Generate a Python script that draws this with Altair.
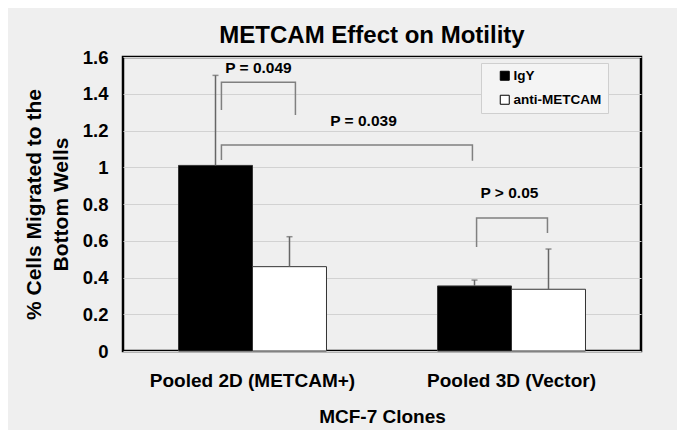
import altair as alt
import pandas as pd

categories = ["Pooled 2D (METCAM+)", "Pooled 3D (Vector)"]
series = ["IgY", "anti-METCAM"]
igy_mean = [1.01, 0.354]
igy_err = [0.49, 0.032]
anti_mean = [0.459, 0.336]
anti_err = [0.163, 0.219]

# significance brackets (position within a category's bar band: 0 = left edge, 1 = right edge)
p_labels = ["P = 0.049", "P = 0.039", "P > 0.05"]
br_left_cat = [categories[0], categories[0], categories[1]]
br_left_pos = [0.29, 0.29, 0.264]
br_left_low = [1.312, 1.04, 0.566]
br_right_cat = [categories[0], categories[1], categories[1]]
br_right_pos = [0.79, 0.236, 0.743]
br_right_low = [1.284, 1.035, 0.642]
br_top = [1.462, 1.121, 0.724]
lab_cat = [categories[0], categories[0], categories[1]]
lab_pos = [0.54, 1.25, 0.486]
lab_y = [1.54, 1.252, 0.86]

y_ticks = [0, 0.2, 0.4, 0.6, 0.8, 1.0, 1.2, 1.4, 1.6]

rows = []
for i, c in enumerate(categories):
    rows.append({"category": c, "series": series[0], "mean": igy_mean[i], "hi": igy_mean[i] + igy_err[i]})
    rows.append({"category": c, "series": series[1], "mean": anti_mean[i], "hi": anti_mean[i] + anti_err[i]})
bars_df = pd.DataFrame(rows)

br_rows = []
for i in range(len(p_labels)):
    pts = [
        (br_left_cat[i], br_left_pos[i], br_left_low[i]),
        (br_left_cat[i], br_left_pos[i], br_top[i]),
        (br_right_cat[i], br_right_pos[i], br_top[i]),
        (br_right_cat[i], br_right_pos[i], br_right_low[i]),
    ]
    for k, (c, p, v) in enumerate(pts):
        br_rows.append({"bracket": p_labels[i], "order": k, "category": c, "pos": p, "value": v})
br_df = pd.DataFrame(br_rows)

lab_df = pd.DataFrame({"label": p_labels, "category": lab_cat, "pos": lab_pos, "value": lab_y})

FONT = "Liberation Sans"

x_enc = alt.X(
    "category:N",
    sort=categories,
    scale=alt.Scale(domain=categories, paddingInner=0.4286, paddingOuter=0.2143),
    axis=alt.Axis(
        title="MCF-7 Clones",
        labelAngle=0,
        labelFontSize=19,
        labelFont=FONT,
        labelFontWeight="bold",
        labelColor="black",
        labelPadding=20,
        labelLimit=400,
        titleFontSize=19,
        titleFont=FONT,
        titleFontWeight="bold",
        titleColor="black",
        titlePadding=17,
        ticks=False,
        domain=False,
        grid=False,
    ),
)

y_axis = alt.Axis(
    values=y_ticks,
    tickCount=9,
    format="~g",
    labelOverlap=False,
    title=["% Cells Migrated to the", "Bottom Wells"],
    titleFontSize=21,
    titleFont=FONT,
    titleFontWeight="bold",
    titleColor="black",
    titleLineHeight=27,
    titlePadding=11,
    labelFontSize=18.5,
    labelFont=FONT,
    labelFontWeight="bold",
    labelColor="black",
    labelPadding=15,
    ticks=False,
    domain=False,
    grid=True,
    gridColor="#d2d2d2",
    gridWidth=1,
)
y_scale = alt.Scale(domain=[0, 1.6], nice=False)

off_nom = alt.XOffset("series:N", sort=series, scale=alt.Scale(domain=series, paddingInner=0, paddingOuter=0))
off_q = alt.XOffset("pos:Q", scale=alt.Scale(domain=[0, 1]))

bars = alt.Chart(bars_df).mark_bar(stroke="#333333", strokeWidth=1).encode(
    x=x_enc,
    xOffset=off_nom,
    y=alt.Y("mean:Q", scale=y_scale, axis=y_axis),
    color=alt.Color(
        "series:N",
        sort=series,
        scale=alt.Scale(domain=series, range=["#000000", "#ffffff"]),
        legend=alt.Legend(
            title=None,
            orient="none",
            legendX=358,
            legendY=6,
            labelFont=FONT,
            labelFontSize=13.5,
            labelFontWeight="bold",
            labelColor="black",
            labelOffset=2,
            symbolType="square",
            symbolSize=81,
            symbolStrokeColor="black",
            symbolStrokeWidth=1,
            symbolOffset=11,
            rowPadding=9,
            padding=6,
            strokeColor="#cfcfcf",
            fillColor="#f4f4f4",
        ),
    ),
)

err = alt.Chart(bars_df).mark_rule(color="#666666", strokeWidth=1.5).encode(
    x=x_enc,
    xOffset=off_nom,
    y=alt.Y("mean:Q", scale=y_scale, axis=y_axis),
    y2="hi:Q",
)

caps = alt.Chart(bars_df).mark_tick(color="#666666", thickness=1.5, size=6).encode(
    x=x_enc,
    xOffset=off_nom,
    y=alt.Y("hi:Q", scale=y_scale, axis=y_axis),
)

brackets = alt.Chart(br_df).mark_line(color="#808080", strokeWidth=1.5).encode(
    x=x_enc,
    xOffset=off_q,
    y=alt.Y("value:Q", scale=y_scale, axis=y_axis),
    detail="bracket:N",
    order="order:Q",
)

labels = alt.Chart(lab_df).mark_text(
    font=FONT, fontSize=15.5, fontWeight="bold", color="black", baseline="middle", align="center"
).encode(
    x=x_enc,
    xOffset=off_q,
    y=alt.Y("value:Q", scale=y_scale, axis=y_axis),
    text="label:N",
)

chart = (
    alt.layer(bars, err, caps, brackets, labels)
    .resolve_scale(xOffset="independent")
    .properties(
        width=518,
        height=294,
        autosize=alt.AutoSizeParams(type="none"),
        padding={"left": 115, "top": 49, "right": 36, "bottom": 79},
        background="#efefef",
        title=alt.TitleParams(
            "METCAM Effect on Motility",
            font=FONT,
            fontSize=24,
            fontWeight="bold",
            color="black",
            anchor="middle",
            offset=0,
            dx=-10,
        ),
    )
    .configure_view(stroke="black", strokeWidth=2.5, fill="#efefef")
)

chart.save("out.html", embed_options={"renderer": "svg", "actions": False})
